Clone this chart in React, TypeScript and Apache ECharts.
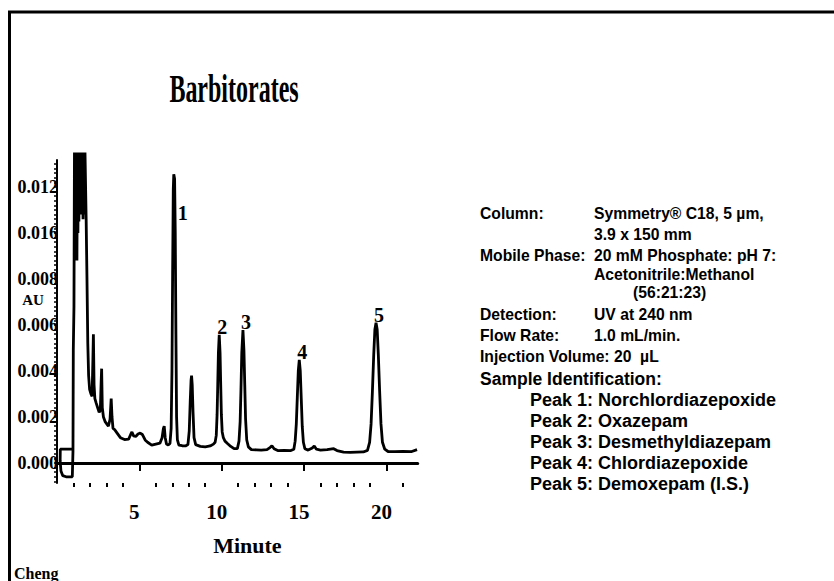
import { useEffect, useRef } from "react";
import * as echarts from "echarts";

// ---- Data ----
const chartTitle = "Barbitorates";
const xAxisTitle = "Minute";
const yAxisTitle = "AU";
const authorNote = "Cheng";

const xMajorTicks = [5, 10, 15, 20];
const xMinorTicks = [1, 2, 3, 4, 6, 7, 8, 9, 11, 12, 13, 14, 16, 17, 18, 19, 21];
const yTickValues = [0, 0.002, 0.004, 0.006, 0.008, 0.01, 0.012];
const yTickLabels = ["0.000", "0.002", "0.004", "0.006", "0.008", "0.016", "0.012"];

// chromatogram trace (minutes, AU)
const traceMinutes = [
  0.95, 0.6, 0.2, 0.19, 0.24, 0.35, 0.55, 0.93, 0.97, 0.99, 1.03, 1.06,
  1.09, 1.12, 1.15, 1.18, 1.21, 1.24, 1.27, 1.3, 1.33, 1.36, 1.41,
  1.46, 1.5, 1.54, 1.58, 1.62, 1.66, 1.7, 1.74, 1.77,
  1.82, 1.87, 1.92, 1.98, 2.06, 2.13, 2.18, 2.21, 2.25, 2.3, 2.38, 2.47, 2.56, 2.63, 2.68, 2.71, 2.75,
  2.82, 2.92, 3.02, 3.12, 3.22, 3.29, 3.34, 3.4, 3.5, 3.65, 3.85, 4.1, 4.35, 4.48, 4.55, 4.65, 4.78,
  4.92, 5.05, 5.18, 5.35, 5.5, 5.75, 6.0, 6.25, 6.38, 6.46, 6.51, 6.57, 6.65, 6.75, 6.86,
  6.93, 6.98, 7.02, 7.06, 7.09, 7.14, 7.18, 7.22, 7.26, 7.31, 7.4, 7.6, 7.8,
  7.95, 8.03, 8.09, 8.14, 8.17, 8.21, 8.26, 8.32, 8.42, 8.7, 9.0, 9.3, 9.5,
  9.6, 9.67, 9.72, 9.76, 9.8, 9.85, 9.9, 9.94, 9.98, 10.03, 10.1, 10.2, 10.35, 10.55, 10.75, 10.95,
  11.05, 11.12, 11.17, 11.22, 11.29, 11.35, 11.4, 11.45, 11.52, 11.62, 11.8, 12.1, 12.4, 12.75,
  12.95, 13.05, 13.18, 13.4, 13.8, 14.2,
  14.38, 14.46, 14.53, 14.59, 14.65, 14.71, 14.77, 14.83, 14.89, 14.96, 15.05, 15.25, 15.5, 15.62,
  15.75, 16.0, 16.4, 16.8, 17.0, 17.4, 17.8, 18.2, 18.6,
  18.85, 18.98, 19.07, 19.15, 19.23, 19.3, 19.37, 19.44, 19.51, 19.59, 19.67, 19.76, 19.9, 20.1,
  20.5, 21.0, 21.5, 21.86,
];
const traceAU = [
  0.0006, 0.0006, 0.0006, 0.0001, -0.00035, -0.00055, -0.0006, -0.0006, 0.0005, 0.0049, 0.0068, 0.0135,
  0.01, 0.0135, 0.0092, 0.0135, 0.0088, 0.0135, 0.01, 0.0135, 0.0105, 0.0135, 0.0109,
  0.0135, 0.0108, 0.0135, 0.0106, 0.0135, 0.0108, 0.0135, 0.0135, 0.0106,
  0.008, 0.0052, 0.0038, 0.0032, 0.003, 0.0029, 0.0045, 0.0056, 0.0034, 0.0028, 0.0026, 0.0024, 0.0022, 0.0023, 0.0035, 0.0041, 0.0024,
  0.002, 0.0018, 0.0017, 0.0016, 0.0019, 0.0028, 0.002, 0.0015, 0.00145, 0.0013, 0.0011, 0.00102, 0.00104, 0.00125, 0.00135, 0.00118, 0.00115,
  0.00126, 0.0013, 0.00124, 0.001, 0.0009, 0.00078, 0.00082, 0.00086, 0.0011, 0.0015, 0.0016, 0.0011, 0.00082, 0.00078, 0.00085,
  0.0015, 0.004, 0.0082, 0.0119, 0.01255, 0.01235, 0.01, 0.0056, 0.002, 0.001, 0.00078, 0.00075, 0.00074,
  0.0008, 0.0014, 0.0027, 0.0036, 0.0038, 0.0034, 0.0022, 0.0011, 0.0008, 0.00072, 0.0007, 0.00074, 0.00082,
  0.0009, 0.0012, 0.0021, 0.0034, 0.0048, 0.00557, 0.0048, 0.0034, 0.0021, 0.00135, 0.0011, 0.00095, 0.00085, 0.00072, 0.00062, 0.00062,
  0.00095, 0.0018, 0.0032, 0.0048, 0.00578, 0.0049, 0.0034, 0.0019, 0.001, 0.0007, 0.00058, 0.00057, 0.00056, 0.00058,
  0.00068, 0.00075, 0.00062, 0.00054, 0.00055, 0.00054,
  0.0006, 0.00095, 0.0017, 0.00285, 0.004, 0.00448, 0.004, 0.0028, 0.0016, 0.0009, 0.00062, 0.00056, 0.00065, 0.00074,
  0.0006, 0.00056, 0.00058, 0.00062, 0.00054, 0.00047, 0.00046, 0.00047, 0.00048,
  0.00055, 0.0009, 0.0017, 0.0031, 0.0047, 0.0058, 0.0061, 0.0058, 0.0047, 0.0031, 0.0017, 0.0009, 0.0006, 0.0005,
  0.00049, 0.0005, 0.00049, 0.00058,
];

const peakLabels = ["1", "2", "3", "4", "5"];
const peakMinutes = [7.09, 9.85, 11.29, 14.71, 19.37];
const peakAU = [0.01255, 0.00557, 0.00578, 0.00448, 0.0061];

const conditionNames = ["Column:", "Mobile Phase:", "Detection:", "Flow Rate:"];
const conditionValues = [
  ["Symmetry® C18, 5 µm,", "3.9 x 150 mm"],
  ["20 mM Phosphate: pH 7:", "Acetonitrile:Methanol", "(56:21:23)"],
  ["UV at 240 nm"],
  ["1.0 mL/min."],
];
const injectionText = "Injection Volume: 20  µL";
const sampleHeader = "Sample Identification:";
const sampleIds = [
  "Peak 1: Norchlordiazepoxide",
  "Peak 2: Oxazepam",
  "Peak 3: Desmethyldiazepam",
  "Peak 4: Chlordiazepoxide",
  "Peak 5: Demoxepam (I.S.)",
];

// ---- Styling helpers ----
const SERIF = '"Liberation Serif", "Times New Roman", serif';
const SANS = '"Liberation Sans", Arial, sans-serif';

function buildGraphic() {
  const g: any[] = [];
  g.push({
    type: "rect",
    silent: true,
    shape: { x: 9.5, y: 12, width: 900, height: 700 },
    style: { fill: "none", stroke: "#000", lineWidth: 3 },
  });
  g.push({
    type: "text",
    x: 234,
    y: 89,
    scaleX: 0.6,
    style: { text: chartTitle, font: `bold 40px ${SERIF}`, fill: "#000", textAlign: "center", textVerticalAlign: "middle" },
  });
  g.push({
    type: "text",
    x: 33,
    y: 300,
    style: { text: yAxisTitle, font: `bold 15px ${SERIF}`, fill: "#000", textAlign: "center", textVerticalAlign: "middle" },
  });
  g.push({
    type: "text",
    x: 14,
    y: 573,
    style: { text: authorNote, font: `bold 16px ${SERIF}`, fill: "#000", textAlign: "left", textVerticalAlign: "middle" },
  });
  const infoFont = `bold 15.7px ${SANS}`;
  const nameX = 480;
  const valX = 594;
  const rows: { x: number; y: number; t: string }[] = [];
  rows.push({ x: nameX, y: 213, t: conditionNames[0] });
  rows.push({ x: valX, y: 213, t: conditionValues[0][0] });
  rows.push({ x: valX, y: 234, t: conditionValues[0][1] });
  rows.push({ x: nameX, y: 255, t: conditionNames[1] });
  rows.push({ x: valX, y: 255, t: conditionValues[1][0] });
  rows.push({ x: valX, y: 274, t: conditionValues[1][1] });
  rows.push({ x: 633, y: 292, t: conditionValues[1][2] });
  rows.push({ x: nameX, y: 314, t: conditionNames[2] });
  rows.push({ x: valX, y: 314, t: conditionValues[2][0] });
  rows.push({ x: nameX, y: 335, t: conditionNames[3] });
  rows.push({ x: valX, y: 335, t: conditionValues[3][0] });
  rows.push({ x: nameX, y: 356, t: injectionText });
  rows.forEach((r) =>
    g.push({
      type: "text",
      x: r.x,
      y: r.y,
      style: { text: r.t, font: infoFont, fill: "#000", textAlign: "left", textVerticalAlign: "middle" },
    })
  );
  g.push({
    type: "text",
    x: nameX,
    y: 379,
    style: { text: sampleHeader, font: `bold 17.5px ${SANS}`, fill: "#000", textAlign: "left", textVerticalAlign: "middle" },
  });
  sampleIds.forEach((s, i) =>
    g.push({
      type: "text",
      x: 530,
      y: 400 + i * 21,
      style: { text: s, font: `bold 18px ${SANS}`, fill: "#000", textAlign: "left", textVerticalAlign: "middle" },
    })
  );
  return g;
}

export default function App() {
  const ref = useRef<HTMLDivElement>(null);
  useEffect(() => {
    if (!ref.current) return;
    const chart = echarts.init(ref.current, undefined, { renderer: "svg" });
    const yDotTicks: number[] = [];
    for (let k = -4; k <= 65; k++) yDotTicks.push(Math.round(k * 2) / 10000);

    const traceData = traceMinutes.map((t, i) => [t, traceAU[i]]);
    const peakData = peakLabels.map((n, i) => ({
      value: [peakMinutes[i], peakAU[i]],
      name: n,
      label: { offset: i === 0 ? [9, 39] : [3, -8] },
    }));

    const option: any = {
      animation: false,
      backgroundColor: "#fff",
      grid: { left: 57, top: 160, width: 360.7, height: 323 },
      xAxis: [
        {
          type: "value",
          min: 0,
          max: 21.9,
          position: "bottom",
          axisLine: { show: true, lineStyle: { color: "#000", width: 3 } },
          axisTick: { show: true, customValues: xMajorTicks, length: 8, lineStyle: { color: "#000", width: 2 } },
          axisLabel: {
            customValues: xMajorTicks,
            formatter: (v: number) => String(v),
            margin: 18,
            fontSize: 21,
            fontWeight: "bold",
            fontFamily: SERIF,
            color: "#000",
            padding: [0, 10, 0, 0],
          },
          splitLine: { show: false },
          name: xAxisTitle,
          nameLocation: "middle",
          nameGap: 51,
          nameTextStyle: { fontSize: 22, fontWeight: "bold", fontFamily: SERIF, color: "#000", padding: [0, 0, 0, 20] },
        },
        {
          type: "value",
          min: 0,
          max: 21.9,
          position: "bottom",
          axisLine: { show: false },
          axisTick: { show: true, customValues: xMinorTicks, length: 4, lineStyle: { color: "#000", width: 2 } },
          axisLabel: { show: false },
          splitLine: { show: false },
        },
      ],
      yAxis: {
        type: "value",
        min: -0.00087,
        max: 0.01317,
        axisLine: { show: true, lineStyle: { color: "#000", width: 2 } },
        axisTick: { show: true, customValues: yDotTicks, length: 3, lineStyle: { color: "#000", width: 1.5 } },
        axisLabel: {
          customValues: yTickValues,
          formatter: (v: number) => {
            const idx = yTickValues.findIndex((t) => Math.abs(t - v) < 1e-7);
            return idx >= 0 ? yTickLabels[idx] : "";
          },
          margin: -1,
          fontSize: 18,
          fontWeight: "bold",
          fontFamily: SERIF,
          color: "#000",
        },
        splitLine: { show: false },
      },
      series: [
        {
          type: "line",
          data: traceData,
          showSymbol: false,
          symbol: "none",
          clip: false,
          lineStyle: { color: "#000", width: 2.8 },
          silent: true,
          z: 2,
        },
        {
          type: "scatter",
          data: peakData,
          symbolSize: 0,
          itemStyle: { color: "#000", opacity: 1 },
          clip: false,
          silent: true,
          label: {
            show: true,
            position: "inside",
            formatter: "{b}",
            fontSize: 20,
            fontWeight: "bold",
            fontFamily: SERIF,
            color: "#000",
            opacity: 1,
            textBorderWidth: 0,
          },
          z: 3,
        },
      ],
      graphic: buildGraphic(),
    };
    chart.setOption(option);
    return () => chart.dispose();
  }, []);
  return (
    <div
      ref={ref}
      style={{ position: "fixed", left: 0, top: 0, width: 834, height: 581, background: "#fff" }}
    />
  );
}
